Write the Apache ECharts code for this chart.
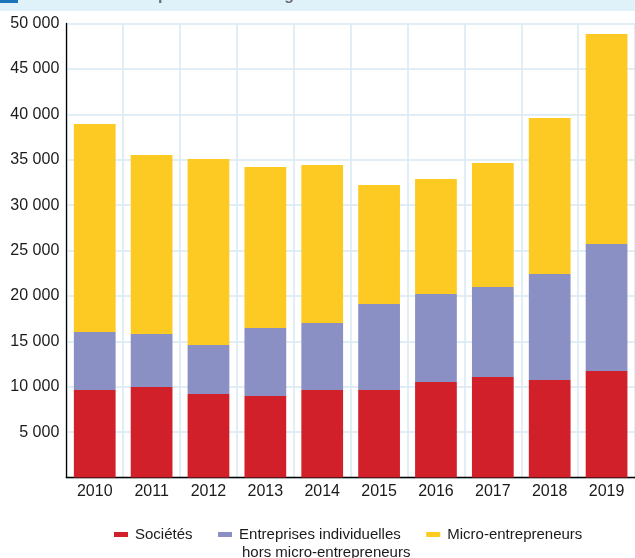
<!DOCTYPE html>
<html><head><meta charset="utf-8">
<script src="https://cdn.jsdelivr.net/npm/echarts@6/dist/echarts.min.js"></script>
<style>html,body{margin:0;padding:0;background:#fff}#c{width:635px;height:558px}</style>
</head><body><div id="c"></div>
<script>
const years = ['2010','2011','2012','2013','2014','2015','2016','2017','2018','2019'];
const societes = [9640, 9970, 9200, 8980, 9640, 9640, 10520, 11070, 10740, 11730];
const entIndiv = [6380, 5830, 5390, 7480, 7370, 9470, 9690, 9910, 11670, 13990];
const micro = [22910, 19720, 20490, 17740, 17410, 13100, 12660, 13660, 17180, 23120];
const seriesNames = ['Sociétés', 'Entreprises individuelles hors micro-entrepreneurs', 'Micro-entrepreneurs'];
const titleText = "Créations d'entreprises dans la région Hauts-de-France";

const FONT = '"Liberation Sans", Arial, sans-serif';
const chart = echarts.init(document.getElementById('c'), null, {renderer: 'canvas'});
const fmt = v => String(v).replace(/\B(?=(\d{3})+(?!\d))/g, ' ');
const colors = ['#d2202a', '#8a8fc4', '#fdc923'];
const mk = (name, data, i) => ({
  name, type: 'bar', stack: 'tot', data, barCategoryGap: '26.6%',
  itemStyle: {color: colors[i]}, emphasis: {disabled: true}
});
chart.setOption({
  animation: false,
  grid: {left: 66.3, top: 23.5, width: 572.5, height: 454, containLabel: false},
  graphic: [
    {type: 'rect', shape: {x: 0, y: 0, width: 635, height: 11}, style: {fill: '#dff1f9'}},
    {type: 'rect', shape: {x: 0, y: 0, width: 18, height: 3}, style: {fill: '#1b75bb'}},
    {type: 'text', x: 27, y: -4.2, style: {text: titleText, font: 'bold 16px ' + FONT, fill: '#6d6e70', verticalAlign: 'middle'}},
    {type: 'text', x: 242, y: 553, style: {text: 'hors micro-entrepreneurs', font: '15px ' + FONT, fill: '#1a1a1a', verticalAlign: 'middle'}}
  ],
  legend: {
    bottom: 11, left: 109, itemWidth: 14, itemHeight: 5, itemGap: 25.5, icon: 'rect',
    textStyle: {fontSize: 15, fontFamily: FONT, color: '#1a1a1a', padding: [0, 0, 0, 2]},
    formatter: n => n === seriesNames[1] ? 'Entreprises individuelles' : n,
    data: seriesNames, selectedMode: false
  },
  xAxis: {
    type: 'category', data: years,
    axisLine: {lineStyle: {color: '#000', width: 1.3}},
    axisTick: {show: false},
    axisLabel: {fontSize: 16, fontFamily: FONT, color: '#1a1a1a', margin: 6},
    splitLine: {show: true, lineStyle: {color: '#d9e8f3', width: 1.5}}
  },
  yAxis: {
    type: 'value', min: 0, max: 50000, interval: 5000,
    axisLine: {show: true, lineStyle: {color: '#000', width: 1.3}},
    axisTick: {show: false},
    axisLabel: {fontSize: 16, fontFamily: FONT, color: '#1a1a1a', margin: 7, showMinLabel: false, formatter: fmt},
    splitLine: {lineStyle: {color: '#d9e8f3', width: 1.5}}
  },
  series: [mk(seriesNames[0], societes, 0), mk(seriesNames[1], entIndiv, 1), mk(seriesNames[2], micro, 2)]
});
</script></body></html>
